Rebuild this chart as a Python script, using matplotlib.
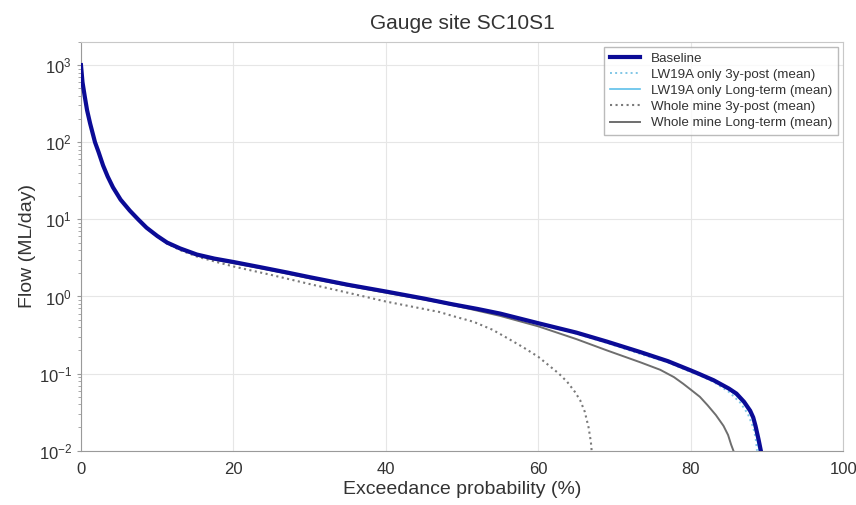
import numpy as np
import matplotlib.pyplot as plt

plt.rcParams['font.family'] = ['Liberation Sans', 'DejaVu Sans']

# Кривые обеспеченности расхода
exc_base = [0, 0.2, 0.5, 0.8, 1.2, 1.84, 2.3, 2.9, 3.5, 4.2, 5.2, 6.4, 7.5, 8.6, 10, 11.3, 13,
            15.2, 17.5, 20, 23.5, 27, 30, 35, 40, 45, 48.5, 52, 55, 60, 65, 69, 73.4, 77, 80,
            81, 83, 85, 86, 87, 87.8, 88.2, 88.5, 88.9, 89.2]
flow_base = [1000, 600, 390, 260, 175, 100, 75, 50, 36, 26, 18, 13, 10, 7.8, 6.1, 5.0, 4.2,
             3.5, 3.1, 2.8, 2.4, 2.05, 1.78, 1.42, 1.16, 0.94, 0.8, 0.69, 0.6, 0.45, 0.34, 0.26, 0.19, 0.145, 0.11,
             0.1, 0.082, 0.064, 0.055, 0.043, 0.033, 0.027, 0.021, 0.014, 0.01]

exc_lw_3y = [0, 0.2, 0.5, 0.8, 1.2, 1.84, 2.3, 2.9, 3.5, 4.2, 5.2, 6.4, 7.5, 8.6, 10, 11.3, 13,
             15.2, 17.5, 20, 23.5, 27, 30, 35, 40, 45, 48.5, 52, 55, 60, 65, 69, 73.4, 77, 80,
             81, 83, 85, 86.5, 87.5, 88.2, 88.5, 88.7]
flow_lw_3y = [1000, 600, 390, 260, 175, 100, 75, 50, 36, 26, 18, 13, 10, 7.7, 6.0, 4.9, 4.1,
              3.4, 3.0, 2.75, 2.36, 2.0, 1.75, 1.4, 1.14, 0.93, 0.79, 0.68, 0.59, 0.44, 0.33, 0.25, 0.18, 0.14, 0.105,
              0.097, 0.078, 0.058, 0.042, 0.03, 0.02, 0.015, 0.01]

exc_lw_lt = [0, 0.2, 0.5, 0.8, 1.2, 1.84, 2.3, 2.9, 3.5, 4.2, 5.2, 6.4, 7.5, 8.6, 10, 11.3, 13,
             15.2, 17.5, 20, 23.5, 27, 30, 35, 40, 45, 48.5, 52, 55, 60, 65, 69, 73.4, 77, 80,
             81, 83, 85, 86, 87, 87.8, 88.2, 88.6, 89.0]
flow_lw_lt = [1000, 600, 390, 260, 175, 100, 75, 50, 36, 26, 18, 13, 10, 7.8, 6.1, 5.0, 4.2,
              3.5, 3.1, 2.8, 2.4, 2.04, 1.77, 1.41, 1.15, 0.93, 0.79, 0.69, 0.6, 0.45, 0.34, 0.26, 0.19, 0.144, 0.108,
              0.098, 0.08, 0.062, 0.052, 0.041, 0.031, 0.025, 0.016, 0.01]

exc_wm_3y = [0, 0.2, 0.5, 0.8, 1.2, 1.84, 2.3, 2.9, 3.5, 4.2, 5.2, 6.4, 7.5, 8.6, 10, 11.3, 13,
             15.2, 17.5, 20, 25, 30, 35, 40, 44, 47, 49, 51.5, 54, 55.9, 58, 60, 61.5, 62.7,
             63.8, 64.8, 65.5, 66.1, 66.6, 66.9, 67.0]
flow_wm_3y = [1000, 600, 390, 260, 175, 100, 75, 50, 36, 26, 18, 13, 10, 7.7, 6.0, 4.85, 4.0,
              3.3, 2.85, 2.45, 1.9, 1.45, 1.12, 0.86, 0.72, 0.63, 0.55, 0.47, 0.37, 0.29, 0.22, 0.165, 0.125, 0.1,
              0.078, 0.058, 0.045, 0.032, 0.02, 0.013, 0.01]

exc_wm_lt = [0, 0.2, 0.5, 0.8, 1.2, 1.84, 2.3, 2.9, 3.5, 4.2, 5.2, 6.4, 7.5, 8.6, 10, 11.3, 13,
             15.2, 17.5, 20, 23.5, 27, 30, 35, 40, 44, 47, 51, 55, 60, 65, 69, 73.4, 76, 77.8,
             79, 80, 81.2, 82.2, 83.3, 84.3, 84.9, 85.3, 85.6]
flow_wm_lt = [1000, 600, 390, 260, 175, 100, 75, 50, 36, 26, 18, 13, 10, 7.7, 6.0, 4.9, 4.1,
              3.4, 3.0, 2.7, 2.33, 1.98, 1.72, 1.38, 1.12, 0.95, 0.84, 0.69, 0.56, 0.41, 0.28, 0.2, 0.14, 0.112, 0.09,
              0.074, 0.062, 0.05, 0.039, 0.029, 0.021, 0.016, 0.012, 0.01]

fig = plt.figure(figsize=(8.56, 5.05), dpi=100)
ax = fig.add_axes([0.0946, 0.1075, 0.8904, 0.8095])

ax.plot(exc_base, flow_base, color='#0b0b96', lw=3, label='Baseline', zorder=3)
ax.plot(exc_lw_3y, flow_lw_3y, color='#7fc6e6', lw=1.4, ls=':', label='LW19A only 3y-post (mean)', zorder=2)
ax.plot(exc_lw_lt, flow_lw_lt, color='#5ec0ea', lw=1.2, label='LW19A only Long-term (mean)', zorder=2)
ax.plot(exc_wm_3y, flow_wm_3y, color='#7a7a7a', lw=1.5, ls=':', label='Whole mine 3y-post (mean)', zorder=2)
ax.plot(exc_wm_lt, flow_wm_lt, color='#6e6e6e', lw=1.4, label='Whole mine Long-term (mean)', zorder=2)

ax.set_yscale('log')
ax.set_xlim(0, 100)
ax.set_ylim(1e-2, 2000)
ax.set_xticks([0, 20, 40, 60, 80, 100])

# Сетка и оформление осей
ax.grid(True, which='major', color='#e6e6e6', lw=0.8)
for s in ax.spines.values():
    s.set_color('#c8c8c8')
ax.spines['bottom'].set_color('#9a9a9a')
ax.spines['left'].set_color('#9a9a9a')
ax.tick_params(axis='both', which='both', colors='#9a9a9a', labelcolor='#333333', labelsize=12)
ax.tick_params(axis='x', length=0, pad=8)
ax.tick_params(axis='y', which='major', length=3)
ax.tick_params(axis='y', which='minor', length=2)

ax.set_title('Gauge site SC10S1', fontsize=15, color='#333333', pad=9)
ax.set_xlabel('Exceedance probability (%)', fontsize=14, color='#333333', labelpad=3)
ax.set_ylabel('Flow (ML/day)', fontsize=14, color='#333333', labelpad=2)

leg = ax.legend(loc='upper right', fontsize=9.6, fancybox=False, edgecolor='#aaaaaa',
                handlelength=2.3, labelspacing=0.28, borderaxespad=0.4, borderpad=0.4)
for t in leg.get_texts():
    t.set_color('#333333')

plt.savefig('out.png', dpi=100)
